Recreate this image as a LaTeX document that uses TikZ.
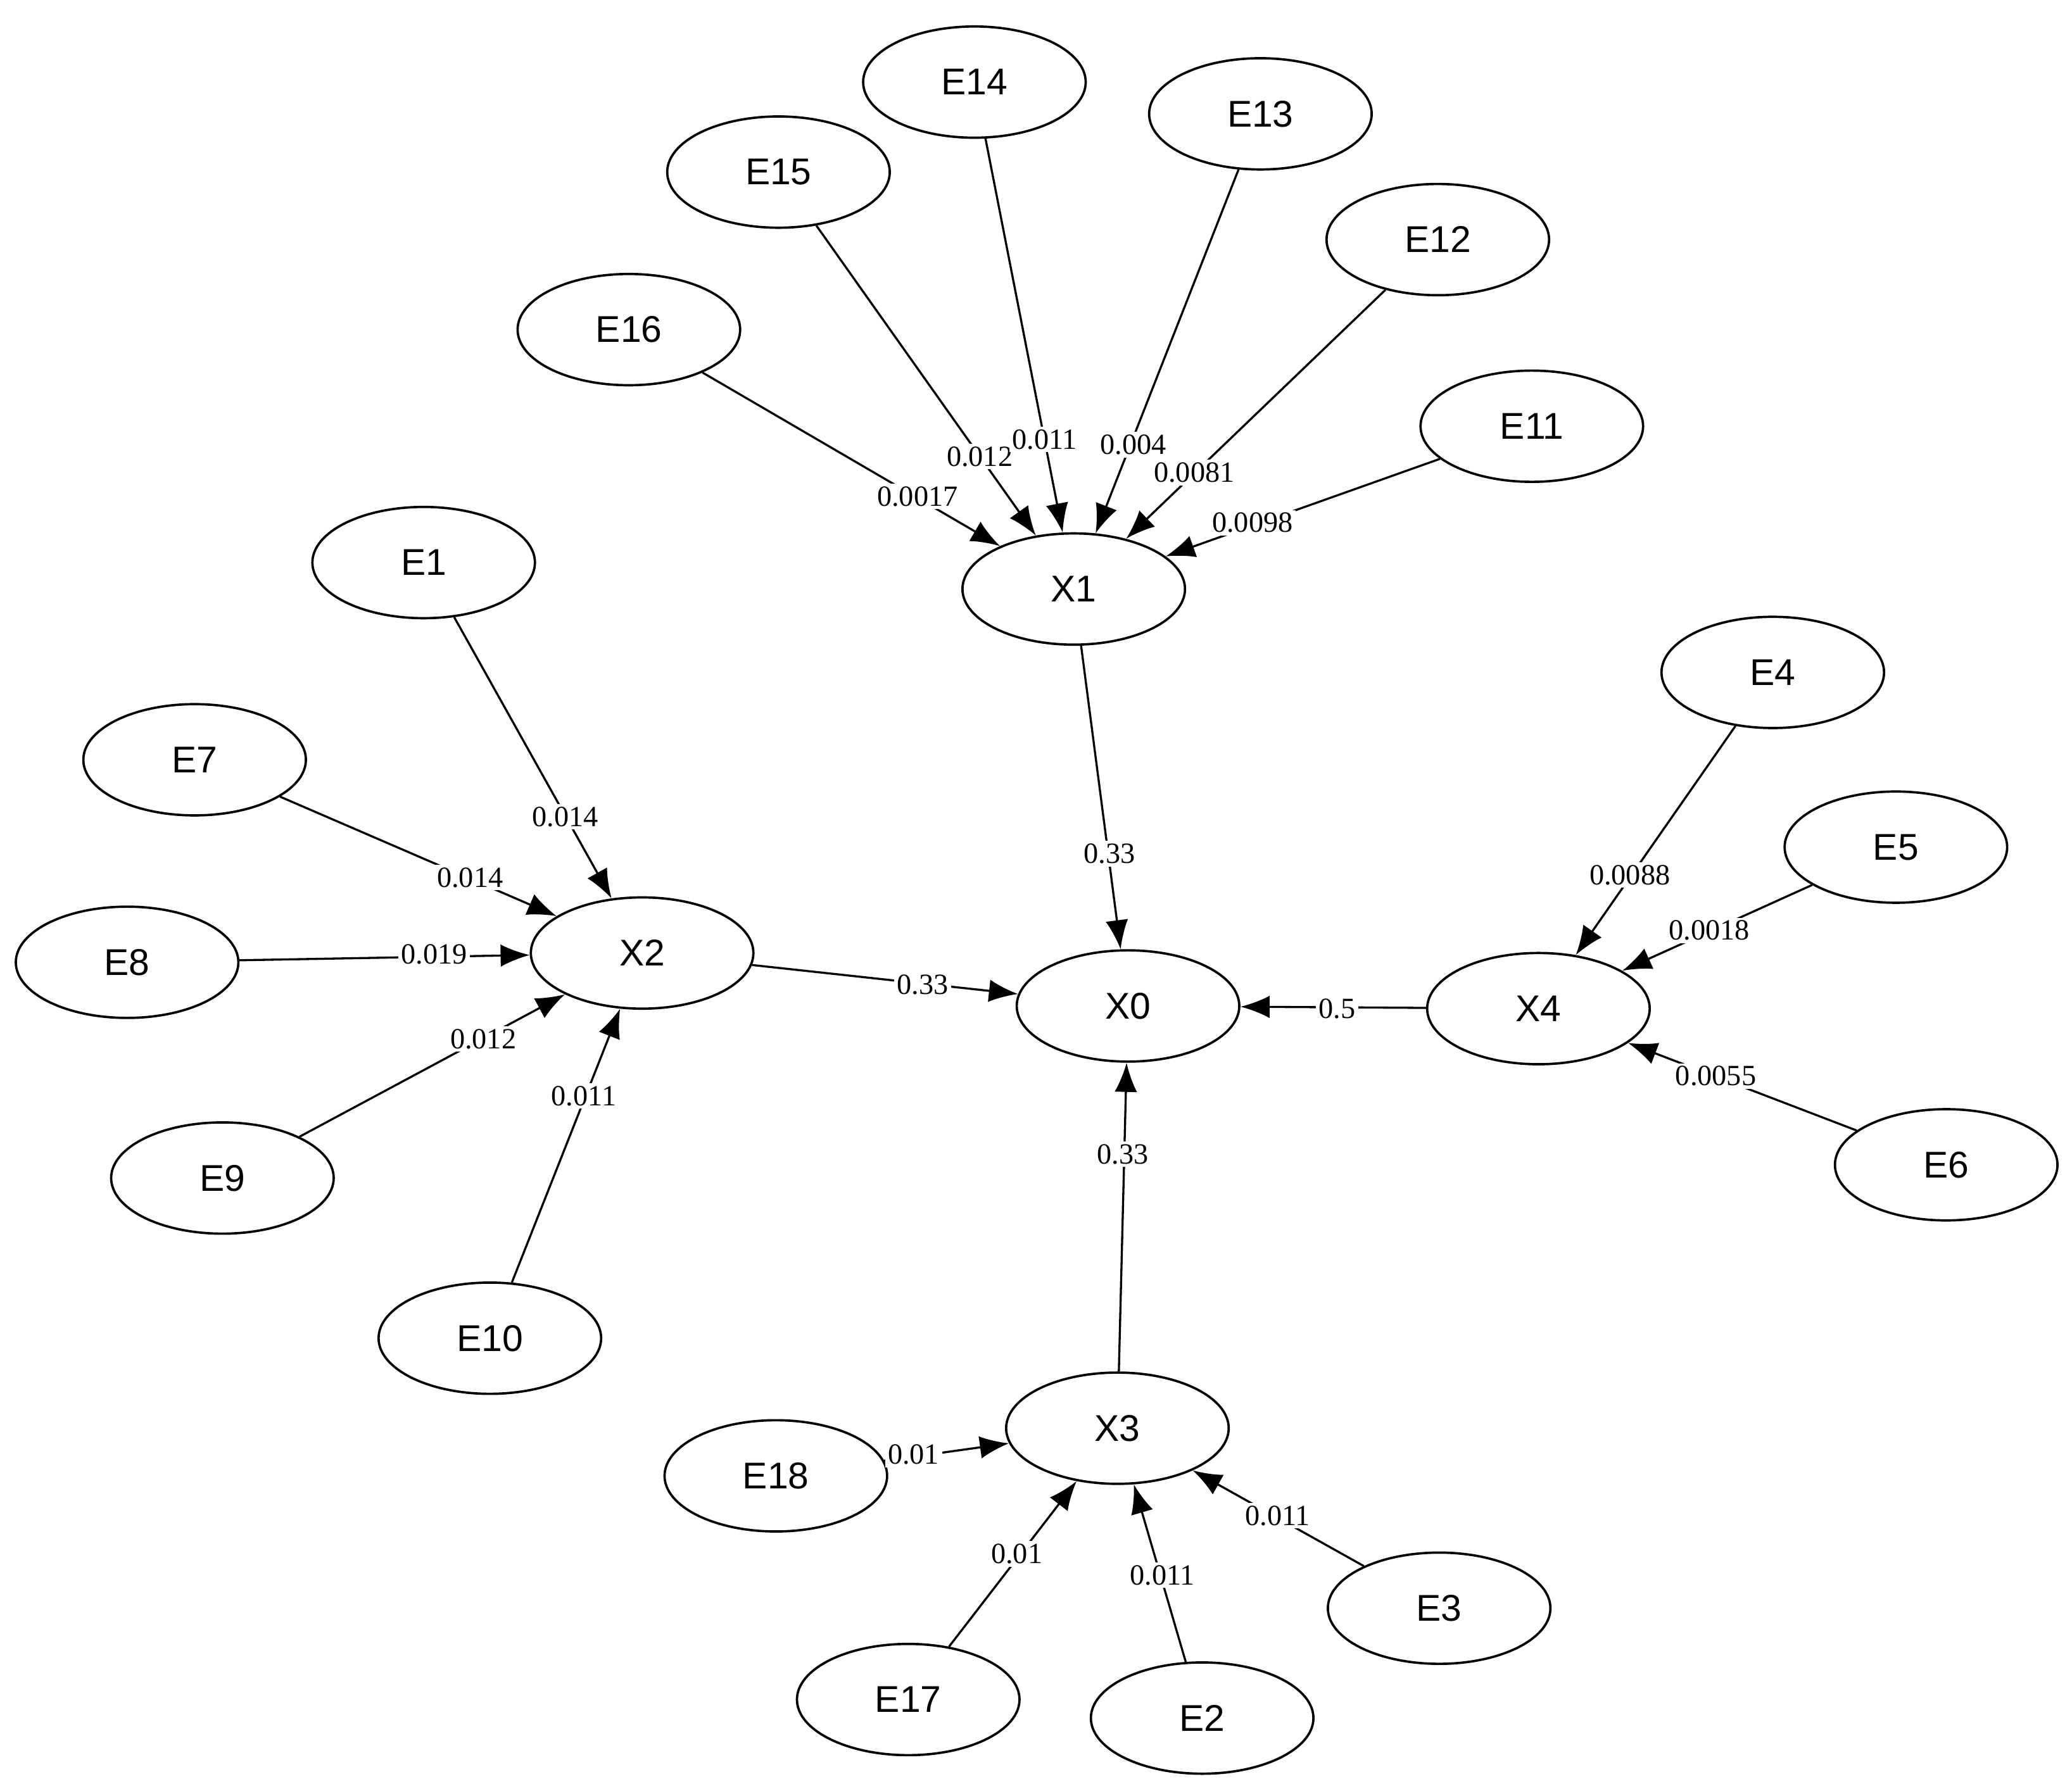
\documentclass[tikz,border=0pt]{standalone}
\usepackage{fontspec}
\setmainfont{Liberation Serif}
\newfontfamily\nodefont{Liberation Sans}
\usetikzlibrary{shapes.geometric,arrows.meta}
\begin{document}
\begin{tikzpicture}[x=0.01cm,y=-0.01cm,
  ell/.style={draw,ellipse,minimum width=1.68cm,minimum height=0.84cm,inner sep=0pt,font=\nodefont\fontsize{8}{9}\selectfont,line width=0.5pt},
  edge/.style={line width=0.45pt,-{Latex[length=0.22cm,width=0.17cm]}},
  lab/.style={fill=white,inner sep=0.6pt,font=\fontsize{6.3}{7}\selectfont}]
\useasboundingbox (0,0) rectangle (1565,1353);
\foreach \n/\x/\y in {E14/736/62,E15/588/130,E13/952/86,E12/1086/181,E16/475/249,E11/1157/322,X1/811/445,E1/320/425,E4/1339/508,E7/147/574,E5/1432/640,E8/96/727,X2/485/720,X0/852/760,X4/1162/762,E9/168/890,E6/1470/880,E10/370/1011,X3/844/1079,E18/586/1115,E3/1087/1215,E17/686/1284,E2/908/1298}
  \node[ell] (\n) at (\x,\y) {\n};
\foreach \a/\b in {E16/X1,E15/X1,E14/X1,E13/X1,E12/X1,E11/X1,X1/X0,E1/X2,E7/X2,E8/X2,E9/X2,E10/X2,X2/X0,X4/X0,E4/X4,E5/X4,E6/X4,X3/X0,E18/X3,E17/X3,E2/X3,E3/X3}
  \draw[edge] (\a) -- (\b);
\foreach \t/\x/\y in {0.0017/693/375,0.012/740/345,0.011/789/332,0.004/856/336,0.0081/902/357,0.0098/946/395,0.014/427/617,0.014/355/663,0.019/328/721,0.012/365/785,0.011/441/828,0.33/697/744,0.33/838/645,0.5/1010/762,0.0088/1231/661,0.0018/1291/703,0.0055/1296/813,0.33/848/872,0.01/690/1099,0.01/768/1174,0.011/878/1190,0.011/965/1145}
  \node[lab] at (\x,\y) {\t};
\end{tikzpicture}
\end{document}
